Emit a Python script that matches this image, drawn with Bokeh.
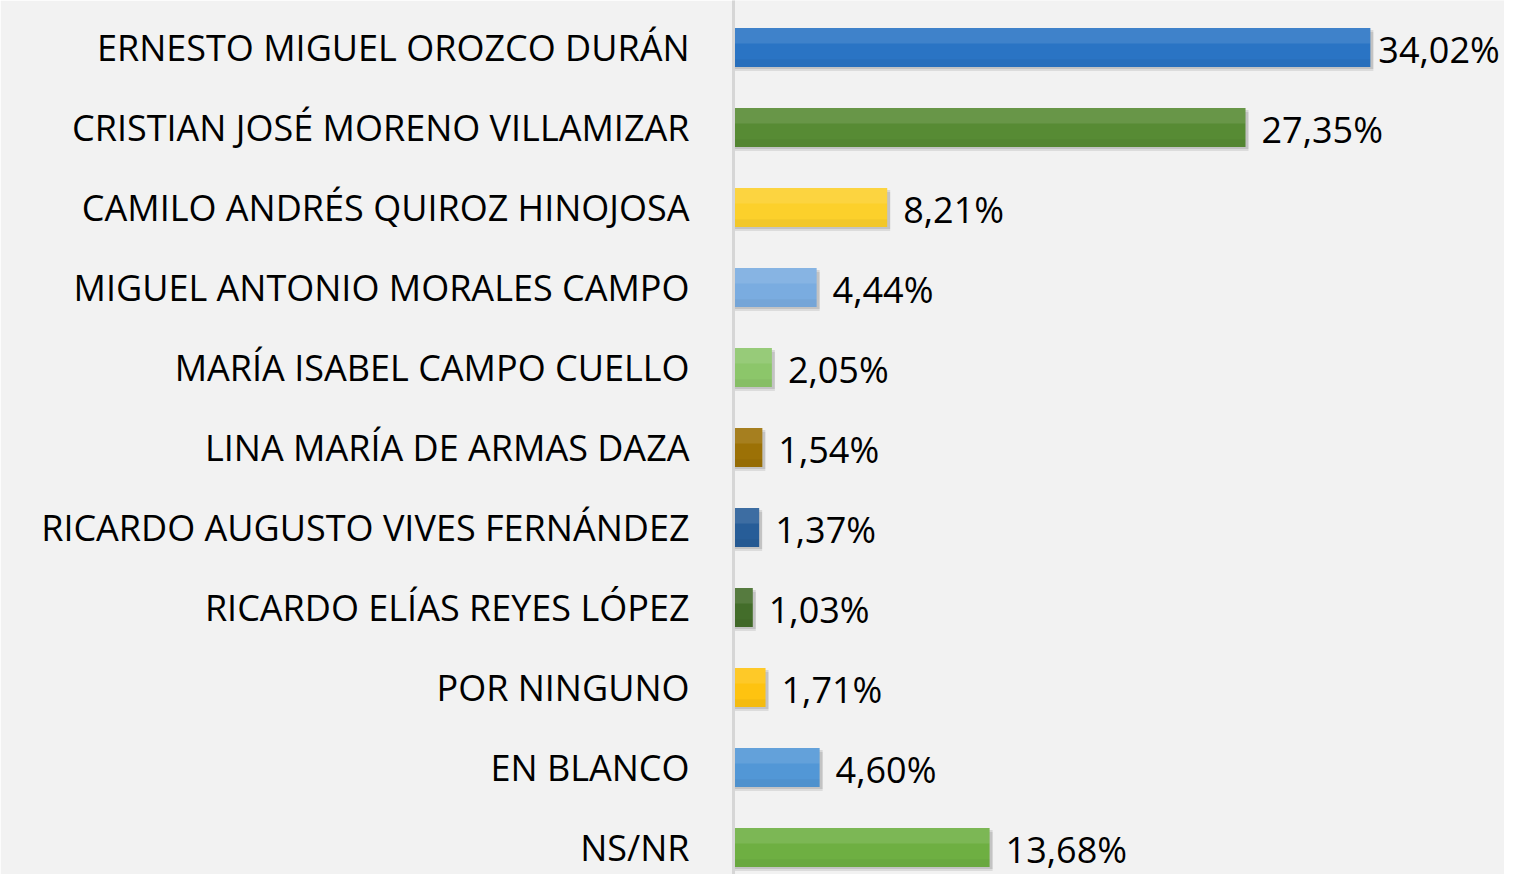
from bokeh.plotting import figure
from bokeh.models import ColumnDataSource, Range1d, FixedTicker
from bokeh.transform import dodge
from bokeh.core.properties import value
from bokeh.embed import file_html
from bokeh.resources import INLINE

# ---- data ----
candidates = [
    "ERNESTO MIGUEL OROZCO DURÁN",
    "CRISTIAN JOSÉ MORENO VILLAMIZAR",
    "CAMILO ANDRÉS QUIROZ HINOJOSA",
    "MIGUEL ANTONIO MORALES CAMPO",
    "MARÍA ISABEL CAMPO CUELLO",
    "LINA MARÍA DE ARMAS DAZA",
    "RICARDO AUGUSTO VIVES FERNÁNDEZ",
    "RICARDO ELÍAS REYES LÓPEZ",
    "POR NINGUNO",
    "EN BLANCO",
    "NS/NR",
]
percentages = [34.02, 27.35, 8.21, 4.44, 2.05, 1.54, 1.37, 1.03, 1.71, 4.60, 13.68]
bar_colors = ["#2a74c4", "#578b34", "#fcd02b", "#7aace0", "#8cc66a", "#9c7106",
              "#275d98", "#436d2a", "#fec310", "#5297d6", "#6eaf42"]

# ---- layout constants ----
W, H = 1504, 874
LEFT = 733
PX_PER_UNIT_X = 18.72
PX_PER_ROW = 80.0
FIRST_ROW_PX = 47.0
BAR_H = 0.49

rows = list(range(len(candidates)))
labels = [f"{v:.2f}".replace(".", ",") + "%" for v in percentages]
vmax = max(percentages)
offsets = [8 if v == vmax else 16 for v in percentages]
shadow_right = [v + 3.0 / PX_PER_UNIT_X for v in percentages]

src = ColumnDataSource(dict(row=rows, val=percentages, color=bar_colors,
                            label=labels, off=offsets, sright=shadow_right))

x_end = (W - LEFT) / PX_PER_UNIT_X
top_val = -FIRST_ROW_PX / PX_PER_ROW
bottom_val = top_val + H / PX_PER_ROW

p = figure(width=W, height=H, output_backend="svg", toolbar_location=None,
           x_range=Range1d(0, x_end), y_range=Range1d(bottom_val, top_val),
           min_border_left=LEFT, min_border_right=0, min_border_top=0,
           min_border_bottom=0)

p.background_fill_color = "#f2f2f2"
p.border_fill_color = "#f2f2f2"
p.outline_line_color = None
p.xgrid.visible = False
p.ygrid.visible = False
p.xaxis.visible = False

# shadows
p.hbar(y=dodge("row", 4.0 / PX_PER_ROW), left=0, right="sright", height=BAR_H,
       source=src, fill_color="black", fill_alpha=0.09, line_color=None)
p.hbar(y=dodge("row", 2.0 / PX_PER_ROW), left=0, right="sright", height=BAR_H,
       source=src, fill_color="black", fill_alpha=0.11, line_color=None)

# bars
p.hbar(y="row", left=0, right="val", height=BAR_H, source=src,
       fill_color="color", line_color=None)
# soft top highlight (gradient imitation)
p.hbar(y=dodge("row", -BAR_H * 0.3), left=0, right="val", height=BAR_H * 0.4,
       source=src, fill_color="white", fill_alpha=0.10, line_color=None)
# bottom darker band
p.hbar(y=dodge("row", BAR_H * 0.4), left=0, right="val", height=BAR_H * 0.2,
       source=src, fill_color="black", fill_alpha=0.04, line_color=None)

# value labels
p.text(x="val", y="row", text="label", source=src, x_offset="off", y_offset=2,
       text_font=value("Open Sans"), text_font_size="36px",
       text_color="#000000", text_baseline="middle", text_align="left")

# y axis
yax = p.yaxis[0]
yax.ticker = FixedTicker(ticks=rows)
yax.major_label_overrides = {r: c for r, c in zip(rows, candidates)}
yax.major_label_text_font = "Open Sans"
yax.major_label_text_font_size = "36px"
yax.major_label_text_color = "#000000"
yax.major_label_standoff = 38
yax.major_tick_line_color = None
yax.minor_tick_line_color = None
yax.axis_line_color = "#d6d6d6"
yax.axis_line_width = 3

open("out.html", "w").write(file_html(p, INLINE))
